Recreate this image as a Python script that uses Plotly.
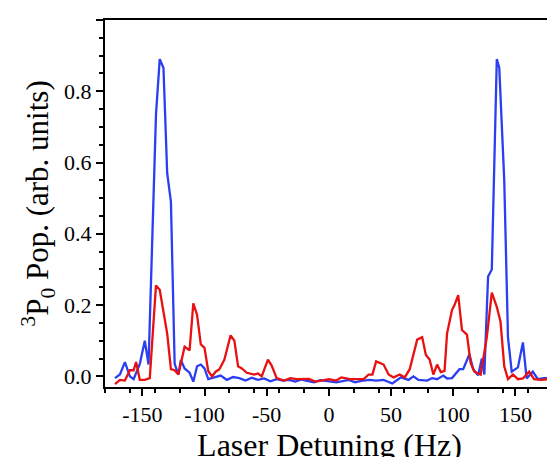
import plotly.graph_objects as go

blue_x = [-172,-168,-164,-160,-157,-152,-148,-145,-139,-136,-133,-130,-127,-124,-121,-119,-116,-112,-109,-106,-103,-100,-97,-92,-87,-82,-77,-72,-67,-62,-57,-52,-47,-42,-37,-32,-27,-22,-17,-12,-7,-2,
          6,16,21,26,33,38,44,51,58,64,68,72,79,83,87,92,95,99,105,108,113,116,120,123,125,128,131,135,137,141,144,147,152,156,159,164,168,173,180]
blue_y = [-0.005,0.005,0.04,0.0,-0.008,0.035,0.1,0.033,0.735,0.89,0.866,0.57,0.49,0.035,0.005,0.046,0.022,0.01,-0.015,0.028,0.033,0.022,-0.008,-0.003,0.002,-0.01,-0.002,-0.005,-0.012,-0.004,-0.01,-0.006,-0.014,-0.008,-0.012,-0.01,-0.015,-0.009,-0.013,-0.017,-0.011,-0.013,
          -0.017,-0.01,-0.017,-0.013,-0.01,-0.012,-0.01,-0.02,-0.003,-0.01,0.0,-0.01,-0.012,-0.005,-0.008,0.002,-0.006,-0.005,0.02,0.02,0.062,0.02,0.003,0.05,0.005,0.28,0.3,0.89,0.866,0.55,0.11,0.013,0.025,0.095,-0.006,0.013,-0.008,-0.005,-0.005]

red_x = [-172,-168,-164,-160,-157,-155,-152,-148,-144,-139,-136,-133,-130,-127,-124,-121,-118,-116,-112,-109,-106,-103,-100,-97,-94,-91,-88,-84,-79,-76,-73,-70,-66,-60,-57,-54,-49,-46,-42,-36,-31,-26,-16,-11,-6,0,
         6,10,17,28,32,35,38,44,48,52,57,61,65,71,75,78,81,84,87,90,93,95,99,101,104,107,111,114,117,122,127,131,135,138,141,144,148,152,156,161,165,171,176,180]
red_y = [-0.022,-0.01,-0.012,0.017,0.017,0.04,-0.01,-0.01,-0.005,0.255,0.243,0.18,0.12,0.02,0.017,0.005,0.05,0.083,0.073,0.205,0.173,0.09,0.08,0.015,0.0,0.013,0.02,0.047,0.115,0.1,0.028,0.022,0.01,0.005,0.008,0.0,0.047,0.03,-0.005,-0.012,-0.005,-0.008,-0.007,-0.015,-0.012,-0.008,
         -0.012,-0.003,-0.008,-0.008,0.005,0.005,0.042,0.033,0.005,-0.003,0.005,-0.003,0.02,0.103,0.11,0.06,0.047,0.005,0.033,0.012,0.015,0.12,0.186,0.2,0.228,0.13,0.117,0.037,0.013,0.005,0.11,0.235,0.195,0.153,0.028,-0.008,0.005,-0.008,-0.006,0.013,-0.008,-0.01,-0.008,-0.015]

x_ticks = [-150,-100,-50,0,50,100,150]
y_ticks = [0.0,0.2,0.4,0.6,0.8,1.0]

SERIF = "Liberation Serif, DejaVu Serif, serif"

fig = go.Figure()
fig.add_trace(go.Scatter(x=blue_x, y=blue_y, mode="lines", line=dict(color="#2a3ff0", width=2.3)))
fig.add_trace(go.Scatter(x=red_x, y=red_y, mode="lines", line=dict(color="#e81010", width=2.3)))

axis_common = dict(showline=True, linecolor="black", linewidth=2, mirror=True, ticks="outside",
                   ticklen=7, tickwidth=2, tickcolor="black", showgrid=False, zeroline=False,
                   tickfont=dict(family=SERIF, size=22, color="black"),
                   minor=dict(ticks="outside", ticklen=4, tickwidth=1.5, tickcolor="black"))
fig.update_xaxes(range=[-180, 181], tickvals=x_ticks,
                 ticktext=[("-" + str(abs(v))) if v < 0 else str(v) for v in x_ticks],
                 title=dict(text="Laser Detuning (Hz)", font=dict(family=SERIF, size=32, color="black"), standoff=0),
                 **axis_common)
fig.update_yaxes(range=[-0.03, 1.0], tickvals=y_ticks, ticktext=[f"{v:.1f}" for v in y_ticks],
                 title=dict(text="<sup>3</sup>P<sub>0</sub> Pop. (arb. units)", font=dict(family=SERIF, size=31, color="black"), standoff=6),
                 **axis_common)
fig.update_layout(width=555, height=457, margin=dict(l=97, r=7, t=12, b=78),
                  plot_bgcolor="white", paper_bgcolor="white", showlegend=False,
                  font=dict(family=SERIF, color="black"))
fig.write_html("out.html")
